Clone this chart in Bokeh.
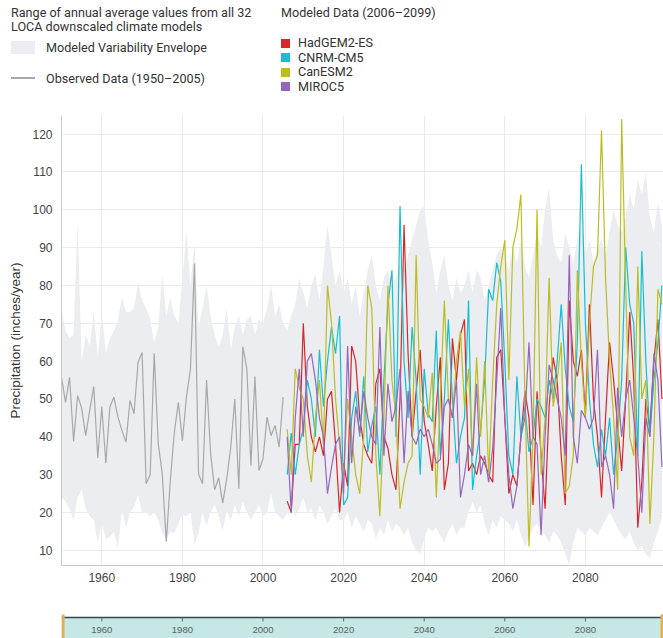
from bokeh.plotting import figure
from bokeh.models import Range1d, FixedTicker, Div
from bokeh.layouts import column
from bokeh.embed import file_html
from bokeh.resources import INLINE
from bokeh.core.properties import value

# ---------------- data ----------------
obs_years = list(range(1950, 2006))
observed = [
    55.7, 49.1, 55.7, 38.8, 50.9, 47.6, 40.3, 47.0, 53.3, 34.4,
    48.0, 33.0, 47.8, 50.5, 45.2, 41.7, 38.6, 49.6, 46.1, 59.7,
    62.3, 27.6, 30.0, 62.1, 38.3, 30.2, 12.3, 28.5, 41.2, 49.1,
    39.0, 50.5, 57.9, 85.8, 30.2, 27.6, 55.0, 35.5, 26.0, 29.2,
    22.5, 28.9, 37.3, 50.0, 26.3, 63.8, 57.9, 32.4, 55.9, 31.1,
    34.2, 45.2, 40.3, 43.0, 37.3, 50.5,
]

env_years = list(range(1950, 2100))
env_upper = [
    73, 68, 66, 67, 97, 60, 67, 64, 73, 61,
    73, 62, 66, 68, 71, 77, 73, 73, 74, 81,
    76, 74, 71, 65, 69, 83, 72, 77, 72, 70,
    82, 94, 80, 91, 69, 74, 80, 72, 67, 64,
    67, 74, 63, 69, 72, 67, 71, 72, 67, 71,
    70, 74, 80, 72, 75, 70, 68, 72, 75, 82,
    78, 74, 80, 83, 76, 85, 96, 88, 80, 84,
    78, 82, 75, 80, 72, 78, 84, 88, 80, 76,
    82, 84, 80, 82, 86, 84, 88, 92, 96, 100,
    101, 92, 86, 78, 84, 88, 80, 76, 82, 78,
    80, 84, 78, 84, 82, 76, 80, 84, 88, 90,
    88, 84, 90, 86, 92, 85, 82, 88, 94, 90,
    100, 106, 92, 88, 86, 94, 90, 86, 92, 96,
    88, 92, 86, 90, 92, 88, 94, 100, 96, 94,
    98, 104, 100, 108, 104, 110, 98, 94, 102, 96,
]
env_lower = [
    24, 23, 21, 18, 24, 26, 21, 19, 18, 12,
    17, 13, 13.5, 15, 10.5, 20.5, 16, 20, 21.5, 24.5,
    20, 20, 19, 20, 18, 14.5, 13, 15, 14.5, 17,
    19.5, 19, 20, 11.5, 14.5, 20, 16.5, 20, 22, 19,
    15, 20.5, 18, 22, 19, 23, 20, 18, 20, 22,
    19, 20, 25, 20, 19, 18, 20, 22, 19, 21,
    24, 20, 21, 18, 22, 20, 17, 19, 21, 18,
    18, 20, 16, 19, 17, 15, 18, 17, 13, 16,
    14, 18, 15, 17, 16, 14, 16, 12, 10, 9,
    13, 16, 15, 16, 14, 12, 15, 17, 14, 16,
    16, 20, 23, 20, 22, 17, 14, 18, 16, 19,
    18, 17, 15, 18, 14, 11, 13, 16, 17, 15,
    14, 12, 15, 14, 12, 9, 6, 12, 16, 15,
    14, 16, 15, 14, 16, 18, 20, 18, 16, 14,
    13, 15, 12, 10, 11, 9, 8, 12, 15, 19,
]

model_years = list(range(2006, 2100))
hadgem2_es = [
    23, 20, 38, 38, 70, 48, 40, 36, 40, 35,
    50, 52, 38, 20, 33, 27, 64, 60, 45, 38,
    35, 33, 54, 58, 40, 37, 30, 26, 50, 96,
    62, 40, 52, 63, 44, 38, 31, 48, 61, 26,
    33, 66, 55, 67, 71, 31, 33, 30, 35, 33,
    30, 28, 61, 63, 45, 25, 30, 27, 40, 52,
    45, 22, 52, 35, 21, 48, 61, 55, 35, 22,
    76, 60, 56, 63, 46, 75, 50, 40, 24, 45,
    65, 55, 43, 31, 50, 73, 55, 16, 28, 50,
    42, 60, 71, 50,
]
cnrm_cm5 = [
    30, 41, 30, 38, 42, 55, 50, 40, 63, 48,
    60, 69, 62, 72, 22, 24, 45, 52, 40, 56,
    36, 43, 48, 30, 55, 75, 84, 40, 101, 60,
    45, 69, 55, 30, 58, 46, 44, 68, 35, 50,
    71, 50, 33, 40, 45, 76, 26, 35, 42, 55,
    79, 76, 86, 81, 60, 35, 30, 56, 40, 48,
    36, 40, 50, 48, 45, 55, 50, 60, 75, 58,
    48, 44, 65, 112, 70, 50, 38, 32, 42, 35,
    45, 30, 40, 55, 90, 75, 70, 35, 89, 60,
    40, 55, 65, 80,
]
canesm2 = [
    42, 30, 58, 53, 50, 35, 28, 45, 55, 38,
    80, 70, 50, 38, 30, 50, 40, 30, 25, 40,
    80, 74, 35, 19, 45, 80, 55, 45, 21, 28,
    33, 35, 88, 50, 48, 45, 57, 24, 50, 76,
    50, 45, 60, 68, 48, 58, 35, 61, 40, 60,
    30, 55, 75, 85, 92, 55, 90, 95, 104, 50,
    11, 40, 100, 30, 45, 82, 48, 55, 65, 25,
    27, 35, 84, 60, 45, 70, 85, 88, 121, 82,
    60, 45, 26, 124, 80, 40, 35, 85, 50, 55,
    17, 40, 79, 75,
]
miroc5 = [
    40, 20, 45, 58, 40, 60, 62, 55, 45, 40,
    25, 32, 38, 40, 25, 64, 33, 48, 41, 52,
    45, 40, 38, 69, 35, 54, 44, 48, 58, 33,
    52, 40, 38, 42, 40, 42, 38, 33, 34, 48,
    50, 45, 55, 24, 30, 38, 35, 54, 30, 35,
    28, 37, 55, 74, 45, 30, 21, 27, 40, 45,
    65, 40, 38, 14, 40, 59, 55, 50, 45, 35,
    88, 40, 33, 47, 45, 42, 45, 63, 32, 35,
    30, 21, 53, 40, 50, 55, 45, 35, 20, 45,
    40, 62, 55, 32,
]

model_names = ["HadGEM2-ES", "CNRM-CM5", "CanESM2", "MIROC5"]
model_colors = ["#d62728", "#17becf", "#bcbd22", "#9467bd"]
model_series = [hadgem2_es, cnrm_cm5, canesm2, miroc5]

x_ticks = [1960, 1980, 2000, 2020, 2040, 2060, 2080]
y_ticks = [10, 20, 30, 40, 50, 60, 70, 80, 90, 100, 110, 120]

header_left = ["Range of annual average values from all 32", "LOCA downscaled climate models"]
envelope_label = "Modeled Variability Envelope"
observed_label = "Observed Data (1950\u20132005)"
modeled_title = "Modeled Data (2006\u20132099)"

ENV_COLOR = "#ecedf1"
OBS_COLOR = "#a8a8a8"
TXT_COLOR = "#333333"

# ---------------- legend header (HTML) ----------------
def span(left, cy, txt):
    return ('<span style="position:absolute;left:%dpx;top:%.1fpx;line-height:16px;'
            'white-space:nowrap;">%s</span>' % (left, cy - 8, txt))

parts = []
parts.append(span(11, 13, header_left[0]))
parts.append(span(11, 27, header_left[1]))
parts.append('<span style="position:absolute;left:11px;top:41px;width:24px;height:13px;'
             'background:%s;"></span>' % ENV_COLOR)
parts.append(span(46, 48, envelope_label))
parts.append('<span style="position:absolute;left:11px;top:77px;width:24px;height:2px;'
             'background:%s;"></span>' % OBS_COLOR)
parts.append(span(46, 79, observed_label))
parts.append(span(281, 13, modeled_title))
row_y = [43, 57.5, 72, 86.5]
for name, col, cy in zip(model_names, model_colors, row_y):
    parts.append('<span style="position:absolute;left:281px;top:%.1fpx;width:9px;height:9px;'
                 'background:%s;"></span>' % (cy - 4.5, col))
    parts.append(span(298, cy, name))
html = ('<div style="position:relative;width:663px;height:108px;font-family:Roboto;'
        'font-size:12.6px;color:%s;">%s</div>' % (TXT_COLOR, "".join(parts)))
leg = Div(text=html, width=663, height=108, margin=0)

# ---------------- main chart ----------------
X0, X1 = 1950, 2099.38
p = figure(width=663, height=492, x_range=Range1d(X0, X1), y_range=Range1d(6, 124.9),
           output_backend="svg", toolbar_location=None,
           min_border_left=61, min_border_right=0, min_border_top=7, min_border_bottom=35)
p.outline_line_color = None
p.varea(x=env_years, y1=env_lower, y2=env_upper, fill_color=ENV_COLOR)
p.line(obs_years, observed, line_color=OBS_COLOR, line_width=1.2)
for name, col, vals in zip(model_names, model_colors, model_series):
    p.line(model_years, vals, line_color=col, line_width=1.2)

p.xaxis.ticker = FixedTicker(ticks=x_ticks)
p.yaxis.ticker = FixedTicker(ticks=y_ticks)
p.xgrid.ticker = FixedTicker(ticks=x_ticks)
p.ygrid.ticker = FixedTicker(ticks=y_ticks)
p.grid.grid_line_color = "#ebebeb"
for ax in (p.xaxis, p.yaxis):
    ax.axis_line_color = "#c8c8c8"
    ax.major_tick_line_color = None
    ax.minor_tick_line_color = None
    ax.major_tick_out = 0
    ax.major_tick_in = 0
    ax.minor_tick_out = 0
    ax.major_label_text_font = "Liberation Sans"
    ax.major_label_text_font_size = "12px"
    ax.major_label_text_color = "#444444"
p.xaxis.major_label_standoff = 7
p.yaxis.major_label_standoff = 9
p.yaxis.axis_label = "Precipitation (inches/year)"
p.yaxis.axis_label_text_font = "Liberation Sans"
p.yaxis.axis_label_text_font_size = "13.5px"
p.yaxis.axis_label_text_font_style = "normal"
p.yaxis.axis_label_text_color = "#333333"
p.yaxis.axis_label_standoff = 6

# ---------------- range slider strip ----------------
s = figure(width=663, height=38, x_range=Range1d(X0, X1),
           y_range=Range1d(638, 600), x_axis_type=None, y_axis_type=None,
           output_backend="svg", toolbar_location=None,
           min_border_left=61, min_border_right=0, min_border_top=0, min_border_bottom=0)
s.outline_line_color = None
s.grid.visible = False
PX_PER_YEAR = 602 / (X1 - X0)
s.quad(left=[X0], right=[X1], top=[617], bottom=[640], fill_color="#c5e8e5", line_color=None)
s.line(x=[X0, X1], y=[617, 617], line_color="#2e4a55", line_width=1.5)
s.segment(x0=x_ticks, x1=x_ticks, y0=[617] * len(x_ticks), y1=[621] * len(x_ticks),
          line_color="#556666", line_width=1)
s.text(x=x_ticks, y=[629] * len(x_ticks), text=[str(t) for t in x_ticks],
       text_font=value("Liberation Sans"), text_font_size=value("9.5px"),
       text_color="#556060", text_align="center", text_baseline="middle")
s.quad(left=[X0, X1 - 3 / PX_PER_YEAR], right=[X0 + 3 / PX_PER_YEAR, X1], top=[614, 614],
       bottom=[640, 640], fill_color="#e2b14c", line_color=None)

layout = column(leg, p, s, spacing=0)
open("out.html", "w").write(file_html(layout, INLINE))
